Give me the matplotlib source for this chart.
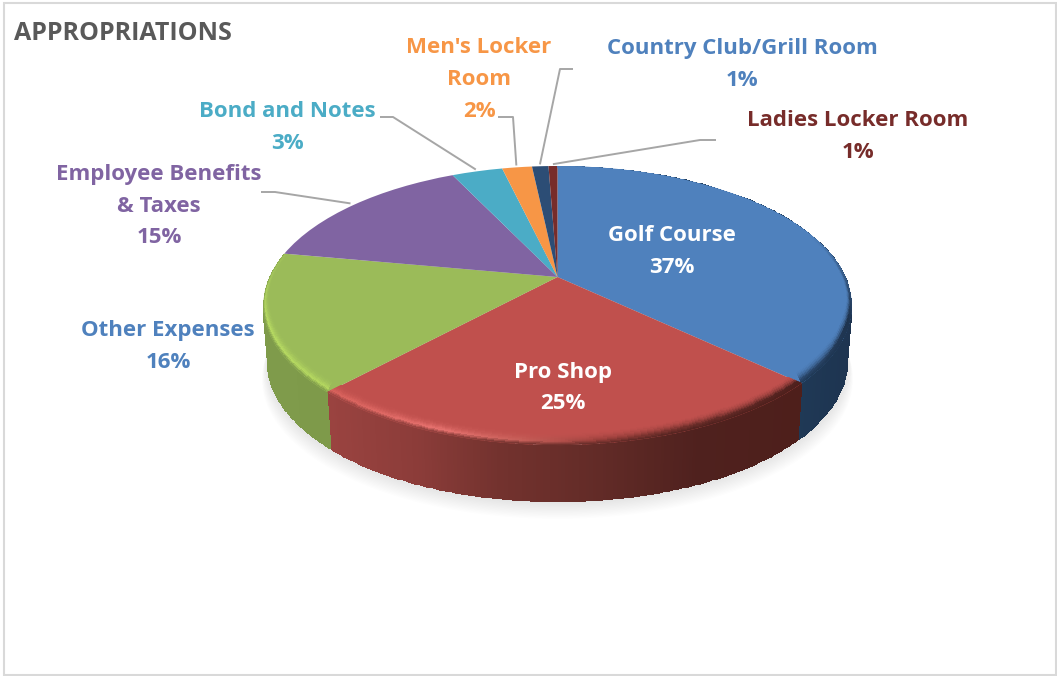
import numpy as np
import matplotlib
matplotlib.use('Agg')
import matplotlib.pyplot as plt
import matplotlib.transforms as mtransforms
from matplotlib.colors import to_rgb
from matplotlib.patches import Rectangle

# data, clockwise from 12 o'clock
names = ['Golf Course', 'Pro Shop', 'Other Expenses', 'Employee Benefits\n& Taxes',
         'Bond and Notes', "Men's Locker\nRoom", 'Country Club/Grill Room', 'Ladies Locker Room']
values = [37.0, 24.9, 16.0, 15.0, 3.4, 2.0, 1.1, 0.6]
colors = ['#4F81BD', '#C0504D', '#9BBB59', '#8064A2', '#4BACC6', '#F79646', '#2C4D75', '#772C2A']
label_colors = ['white', 'white', '#4F81BD', '#8064A2', '#4BACC6', '#F79646', '#4F81BD', '#772C2A']
title = 'APPROPRIATIONS'

# label centres in pixels
label_pos = [(672, 251.5), (563, 388), (168, 346.5), (159, 206), (287, 127.5), (479, 79.5), (742, 64.5), (858, 136.5)]
# leader line start + elbow in pixels, None = no line
leader_pos = [None, None, None, [(261, 192), (275, 192)], [(380, 117), (393, 117)],
              [(498, 117), (513, 117)], [(573, 69), (560, 69)], [(716, 140), (700, 140)]]

# pie geometry (pixels)
cx, cy = 557.5, 277
a, b, k = 288, 133.7, 0.2044
depth = 57
FONT = 'Open Sans'


def project(u, v):
    w = 1 + k * v
    return cx + a * u / w, cy - b * v / w


class Tilt(mtransforms.Transform):
    # unit circle -> tilted disc with perspective
    input_dims = 2
    output_dims = 2
    is_separable = False

    def transform_non_affine(self, pts):
        pts = np.asarray(pts)
        x, y = project(pts[:, 0], pts[:, 1])
        return np.column_stack([x, y])


def edge(theta):
    t = np.radians(theta)
    return project(np.cos(t), np.sin(t))


def stops(x, xs, cols):
    arr = np.array([to_rgb(c) for c in cols])
    return np.stack([np.interp(x, xs, arr[:, i]) for i in range(3)], axis=-1)


# wall colour along x for the three slices that show a wall
wall_x = {0: [790, 855], 1: [330, 420, 500, 600, 700, 800], 2: [260, 335]}
wall_c = {0: ['#1F3A57', '#1E3450'],
          1: ['#9A4340', '#8B3C39', '#73322E', '#622B27', '#4F211E', '#4E1F1B'],
          2: ['#7F9B4B', '#7E9A4A']}
# colour of the bevel along x
rim_x = {0: [800, 830, 855], 1: [330, 440, 520, 600, 700, 800], 2: [260, 335]}
rim_c = {0: ['#2C4A70', '#263F5F', '#1C2F48'],
         1: ['#D9625C', '#E87370', '#C8605A', '#9A3F3B', '#6B2D29', '#4F211E'],
         2: ['#B7DB62', '#B4D75F']}
# y range over which the bevel fades in
rim_y = {0: (235, 320), 1: (0, 1), 2: (245, 320)}

fig = plt.figure(figsize=(10.57, 6.76), dpi=100)
ax = fig.add_axes([0, 0, 1, 1])
wedges, _ = ax.pie(values, startangle=90, counterclock=False, colors=colors, radius=1)
ax.set_aspect('auto')
ax.set_xlim(0, 1057)
ax.set_ylim(676, 0)
ax.axis('off')

tilt = Tilt()
for w in wedges:
    w.set_transform(tilt + ax.transData)
    w.set_zorder(3)
    w.set_linewidth(0)

# soft shadow under the pie
tt = np.linspace(0, 360, 361)
ex, ey = edge(tt)
for i in range(14):
    sc = 0.985 + 0.0015 * i
    ax.fill(cx + (ex - cx) * sc, ey + depth + 1.3 * i, color='black', alpha=0.009, lw=0, zorder=1)

# side walls and bevel
for i in wall_x:
    th = np.linspace(wedges[i].theta1, wedges[i].theta2, 160)
    ex, ey = edge(th)

    h = np.linspace(0, 1, 2)
    X = cx + np.outer(1 - 0.015 * h, ex - cx)
    Y = np.outer(np.ones(2), ey) + np.outer(h * depth, np.ones(th.size))
    c = stops((ex[:-1] + ex[1:]) / 2, wall_x[i], wall_c[i])[None, :, :]
    ax.pcolormesh(X, Y, c, shading='flat', zorder=2, linewidth=0, antialiased=False)

    # bevel: s=0 inner edge on the face, s=1 outer edge
    s = np.linspace(0, 1, 13)
    t = np.radians(th)
    fade_pts = np.clip((ey - rim_y[i][0]) / (rim_y[i][1] - rim_y[i][0]), 0, 1)
    X = np.zeros((s.size, th.size))
    Y = np.zeros((s.size, th.size))
    for j, sj in enumerate(s):
        r = 0.98 + 0.02 * sj
        xx, yy = project(r * np.cos(t), r * np.sin(t))
        X[j] = xx
        Y[j] = yy - 9 * (1 - sj) * fade_pts
    xm = (ex[:-1] + ex[1:]) / 2
    ym = (ey[:-1] + ey[1:]) / 2
    face = np.array(to_rgb(colors[i]))
    rim = stops(xm, rim_x[i], rim_c[i])
    wall = stops(xm, wall_x[i], wall_c[i])
    fade = np.clip((ym - rim_y[i][0]) / (rim_y[i][1] - rim_y[i][0]), 0, 1)[:, None]
    rim = face * (1 - fade) + rim * fade
    wall = face * (1 - fade) + wall * fade
    C = np.zeros((s.size - 1, th.size - 1, 4))
    for j in range(s.size - 1):
        sm = (s[j] + s[j + 1]) / 2
        p = min(sm / 0.7, 1) ** 2
        col = face * (1 - p) + rim * p
        if sm > 0.7:
            q = (sm - 0.7) / 0.3
            col = rim * (1 - q) + wall * q
        C[j, :, :3] = col
        C[j, :, 3] = 1
    bevel = ax.pcolormesh(X, Y, C, shading='flat', zorder=4, linewidth=0, antialiased=False)
    bevel.set_clip_path(wedges[i])

# labels and leader lines
for i, name in enumerate(names):
    txt = f'{name}\n{values[i]:.0f}%'
    ax.text(label_pos[i][0], label_pos[i][1], txt, color=label_colors[i], ha='center', va='center',
            fontsize=16, fontweight='bold', family=FONT, linespacing=1.68, zorder=6)
    if leader_pos[i] is not None:
        mid = (wedges[i].theta1 + wedges[i].theta2) / 2
        t = np.radians(mid)
        ex, ey = project(1.02 * np.cos(t), 1.02 * np.sin(t))
        xs = [p[0] for p in leader_pos[i]] + [ex]
        ys = [p[1] for p in leader_pos[i]] + [ey]
        ax.plot(xs, ys, color='#A6A6A6', lw=1.4, zorder=5, solid_capstyle='butt')

ax.text(14, 33, title, color='#595959', ha='left', va='center', fontsize=18, fontweight='bold', family=FONT)

# chart frame
ax.add_patch(Rectangle((4, 3), 1052, 672, fill=False, edgecolor='#D9D9D9', lw=1.5, zorder=7))

fig.savefig('out.png', dpi=100)
